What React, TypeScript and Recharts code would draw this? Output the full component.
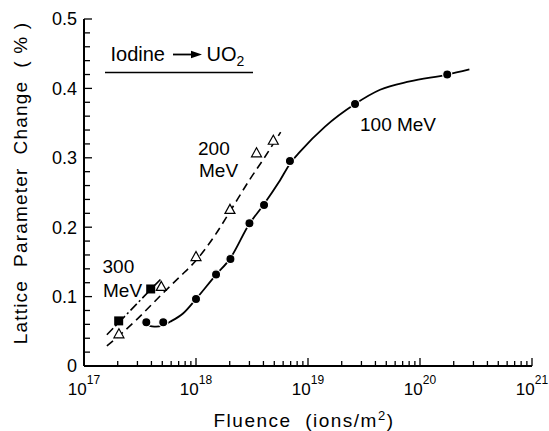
import { ComposedChart, Line, Scatter, XAxis, YAxis } from "recharts";

const FONT = "'Liberation Sans', Arial, Helvetica, sans-serif";

// 100 MeV, filled circles
const fluence100 = [3.6e17, 5.1e17, 1.0e18, 1.51e18, 2.03e18, 3.0e18, 4.05e18, 6.9e18, 2.63e19, 1.75e20];
const change100 = [0.063, 0.063, 0.0965, 0.132, 0.154, 0.2056, 0.232, 0.2954, 0.3775, 0.42];

// 100 MeV, solid fitted curve
const curveFluence100 = [
  3.6e17, 4.4e17, 5.1e17, 5.9e17, 7.7e17, 1e18, 1.5e18, 2e18, 3e18, 4e18, 5.5e18, 7e18,
  8.5e18, 1.42e19, 2.63e19, 4.4e19, 8.1e19, 1.75e20, 2.76e20,
];
const curveChange100 = [
  0.059, 0.0566, 0.059, 0.064, 0.076, 0.0965, 0.131, 0.154, 0.205, 0.232, 0.265, 0.293,
  0.309, 0.345, 0.3775, 0.398, 0.41, 0.42, 0.4275,
];

// 200 MeV, open triangles
const fluence200 = [2.05e17, 4.9e17, 1.0e18, 2.01e18, 3.47e18, 4.9e18];
const change200 = [0.0457, 0.114, 0.157, 0.225, 0.3065, 0.3246];

// 200 MeV, dashed curve
const curveFluence200 = [1.6e17, 2e17, 3e17, 5e17, 7e17, 1e18, 1.5e18, 2e18, 3e18, 4e18, 5.7e18];
const curveChange200 = [0.029, 0.042, 0.068, 0.104, 0.127, 0.152, 0.19, 0.222, 0.268, 0.298, 0.337];

// 300 MeV, filled squares
const fluence300 = [2.04e17, 3.94e17];
const change300 = [0.065, 0.111];

// 300 MeV, dash-dot line
const curveFluence300 = [1.6e17, 4.9e17];
const curveChange300 = [0.045, 0.126];

const xExponents = [17, 18, 19, 20, 21];
const xMultipliers = [1, 2, 3, 4, 5, 6, 7, 8, 9];
const yMajorLabels = ["0", "0.1", "0.2", "0.3", "0.4", "0.5"];

const xTicks = xExponents.flatMap((e) =>
  e === 21 ? [1e21] : xMultipliers.map((m) => m * Math.pow(10, e))
);
const yTicks = Array.from({ length: 26 }, (_, i) => Number((i * 0.02).toFixed(2)));

const toPoints = (xs: number[], ys: number[]) => xs.map((x, i) => ({ x, y: ys[i] }));

const isMajorX = (v: number) => {
  const l = Math.log10(v);
  return Math.abs(l - Math.round(l)) < 1e-6;
};
const isMajorY = (v: number) => Math.abs(v * 10 - Math.round(v * 10)) < 1e-6;

function BottomTick({ x, y, payload }: any) {
  const v = payload.value;
  const major = isMajorX(v);
  return (
    <g>
      <line x1={x} x2={x} y1={y} y2={y - (major ? 8 : 5)} stroke="#000" strokeWidth={1.3} />
      {major && (
        <text x={x} y={y + 29} textAnchor="middle" fontFamily={FONT} fontSize={17} fill="#000">
          10
          <tspan dy={-11} fontSize={12}>
            {Math.round(Math.log10(v))}
          </tspan>
        </text>
      )}
    </g>
  );
}

function TopTick({ x, y, payload }: any) {
  const major = isMajorX(payload.value);
  return <line x1={x} x2={x} y1={y} y2={y + (major ? 7 : 4)} stroke="#000" strokeWidth={1.3} />;
}

function LeftTick({ x, y, payload }: any) {
  const v = payload.value;
  const major = isMajorY(v);
  return (
    <g>
      <line x1={x} x2={x + (major ? 8 : 6)} y1={y} y2={y} stroke="#000" strokeWidth={1.3} />
      {major && (
        <text x={x - 7} y={y} dy="0.36em" textAnchor="end" fontFamily={FONT} fontSize={18} fill="#000">
          {yMajorLabels[Math.round(v * 10)]}
        </text>
      )}
    </g>
  );
}

function RightTick({ x, y, payload }: any) {
  const major = isMajorY(payload.value);
  return <line x1={x} x2={x - (major ? 7 : 4)} y1={y} y2={y} stroke="#000" strokeWidth={1.3} />;
}

const Circle = (p: any) => (
  <circle cx={p.cx} cy={p.cy} r={4.6} fill="#000" stroke="#fff" strokeWidth={1.2} />
);
const Triangle = (p: any) => (
  <polygon
    points={`${p.cx},${p.cy - 5.5} ${p.cx - 5},${p.cy + 3.5} ${p.cx + 5},${p.cy + 3.5}`}
    fill="#fff"
    stroke="#000"
    strokeWidth={1.2}
  />
);
const Square = (p: any) => (
  <rect x={p.cx - 4.5} y={p.cy - 4.5} width={9} height={9} fill="#000" />
);

export default function App() {
  const axisLine = { stroke: "#000", strokeWidth: 2 };
  return (
    <div style={{ position: "absolute", left: 0, top: 0, width: 549, height: 431, background: "#fff" }}>
      <ComposedChart width={549} height={431} margin={{ top: 19, right: 17, left: 0, bottom: 0 }}>
        <XAxis
          xAxisId="b"
          dataKey="x"
          type="number"
          scale="log"
          domain={[1e17, 1e21]}
          allowDataOverflow
          ticks={xTicks}
          interval={0}
          height={65}
          tickSize={0}
          tickMargin={0}
          tickLine={false}
          axisLine={axisLine}
          tick={<BottomTick />}
        />
        <XAxis
          xAxisId="t"
          orientation="top"
          dataKey="x"
          type="number"
          scale="log"
          domain={[1e17, 1e21]}
          allowDataOverflow
          ticks={xTicks}
          interval={0}
          height={0}
          tickSize={0}
          tickMargin={0}
          tickLine={false}
          axisLine={axisLine}
          tick={<TopTick />}
        />
        <YAxis
          yAxisId="l"
          dataKey="y"
          type="number"
          domain={[0, 0.5]}
          allowDataOverflow
          ticks={yTicks}
          interval={0}
          width={84}
          tickSize={0}
          tickMargin={0}
          tickLine={false}
          axisLine={axisLine}
          tick={<LeftTick />}
        />
        <YAxis
          yAxisId="r"
          orientation="right"
          dataKey="y"
          type="number"
          domain={[0, 0.5]}
          allowDataOverflow
          ticks={yTicks}
          interval={0}
          width={0}
          tickSize={0}
          tickMargin={0}
          tickLine={false}
          axisLine={axisLine}
          tick={<RightTick />}
        />
        <Line
          xAxisId="b"
          yAxisId="l"
          data={toPoints(curveFluence100, curveChange100)}
          dataKey="y"
          type="monotone"
          stroke="#000"
          strokeWidth={1.8}
          dot={false}
          activeDot={false}
          isAnimationActive={false}
        />
        <Line
          xAxisId="b"
          yAxisId="l"
          data={toPoints(curveFluence200, curveChange200)}
          dataKey="y"
          type="monotone"
          stroke="#000"
          strokeWidth={1.6}
          strokeDasharray="8 5"
          dot={false}
          activeDot={false}
          isAnimationActive={false}
        />
        <Line
          xAxisId="b"
          yAxisId="l"
          data={toPoints(curveFluence300, curveChange300)}
          dataKey="y"
          type="linear"
          stroke="#000"
          strokeWidth={1.6}
          strokeDasharray="9 3 2 3"
          dot={false}
          activeDot={false}
          isAnimationActive={false}
        />
        <Scatter
          xAxisId="b"
          yAxisId="l"
          data={toPoints(fluence100, change100)}
          shape={Circle}
          isAnimationActive={false}
        />
        <Scatter
          xAxisId="b"
          yAxisId="l"
          data={toPoints(fluence200, change200)}
          shape={Triangle}
          isAnimationActive={false}
        />
        <Scatter
          xAxisId="b"
          yAxisId="l"
          data={toPoints(fluence300, change300)}
          shape={Square}
          isAnimationActive={false}
        />
      </ComposedChart>
      <svg
        width={549}
        height={431}
        style={{ position: "absolute", left: 0, top: 0, pointerEvents: "none" }}
        fontFamily={FONT}
        fill="#000"
      >
        <text x={110.5} y={61} fontSize={20}>Iodine</text>
        <line x1={173} x2={193} y1={54.5} y2={54.5} stroke="#000" strokeWidth={1.8} />
        <polygon points="191,50.8 202,54.5 191,58.2" fill="#000" />
        <text x={206.5} y={61} fontSize={20}>
          UO<tspan dy={5} fontSize={14}>2</tspan>
        </text>
        <line x1={105} x2={253} y1={72.5} y2={72.5} stroke="#000" strokeWidth={1.6} />

        <text x={102.5} y={273} fontSize={19}>300</text>
        <text x={103} y={297} fontSize={19}>MeV</text>
        <text x={198} y={155} fontSize={19}>200</text>
        <text x={199} y={177} fontSize={19}>MeV</text>
        <text x={360} y={131} fontSize={19}>100 MeV</text>

        <text x={304} y={427} fontSize={19} textAnchor="middle" letterSpacing={1.5}>
          {"Fluence\u00a0\u00a0(ions/m"}
          <tspan dy={-7} fontSize={13}>2</tspan>
          <tspan dy={7}>)</tspan>
        </text>
        <text
          x={27}
          y={183}
          fontSize={19}
          textAnchor="middle"
          letterSpacing={1.2}
          transform="rotate(-90 27 183)"
        >
          {"Lattice\u00a0\u00a0Parameter\u00a0\u00a0Change\u00a0\u00a0(\u00a0%\u00a0)"}
        </text>
      </svg>
    </div>
  );
}
